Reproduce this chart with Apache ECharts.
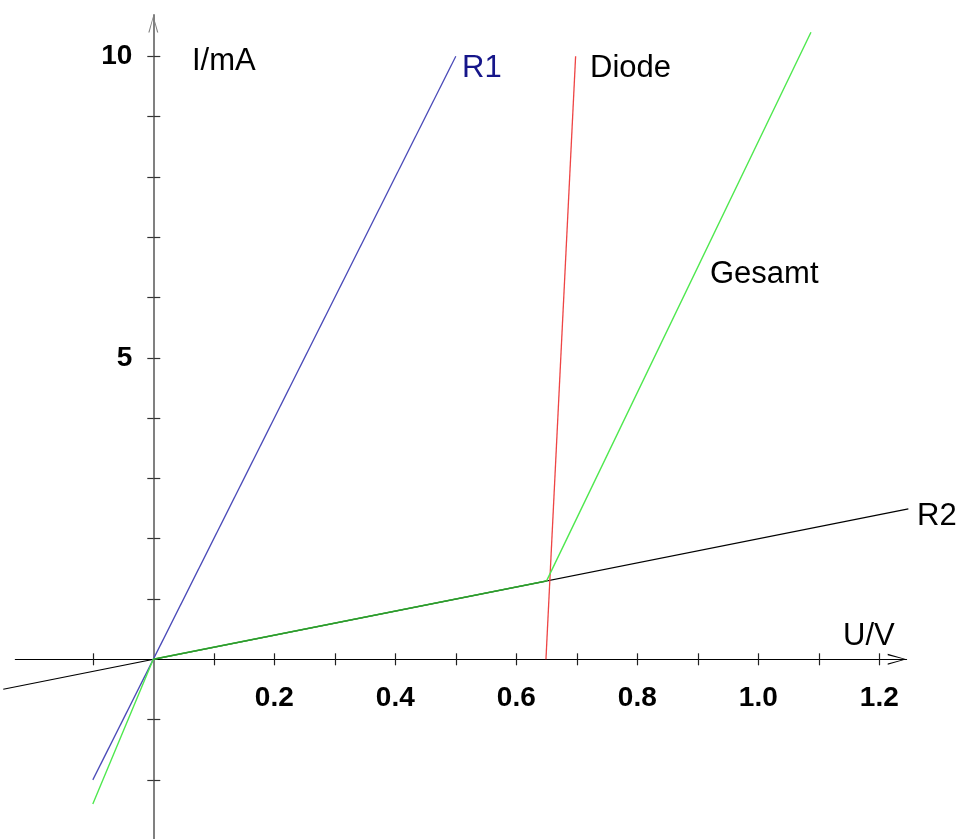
<!DOCTYPE html>
<html><head><meta charset="utf-8">
<script src="https://cdn.jsdelivr.net/npm/echarts@6/dist/echarts.min.js"></script>
<style>html,body{margin:0;padding:0;background:#fff}#c{width:977px;height:839px}</style>
</head><body><div id="c"></div>
<script>
// Data (U in V, I in mA)
const r1U = [-0.1, 0.5];
const r1I = [-2, 10];
const diodeU = [0.649, 0.698];
const diodeI = [0, 10];
const r2U = [-0.248, 1.248];
const r2I = [-0.496, 2.496];
const gesamtU = [-0.1, 0, 0.65, 1.087];
const gesamtI = [-2.4, 0, 1.3, 10.4];
// Axis ticks and labels
const xTickValues = [-0.1, 0.1, 0.2, 0.3, 0.4, 0.5, 0.6, 0.7, 0.8, 0.9, 1.0, 1.1, 1.2];
const xLabelValues = [0.2, 0.4, 0.6, 0.8, 1.0, 1.2];
const yTickValues = [-2, -1, 1, 2, 3, 4, 5, 6, 7, 8, 9, 10];
const yLabelValues = [5, 10];
const xTitle = 'U/V';
const yTitle = 'I/mA';
const seriesNames = ['R1', 'Diode', 'R2', 'Gesamt'];

const pairs = (u, i) => u.map((v, k) => [v, i[k]]);
const FONT = 'Liberation Sans, Arial, sans-serif';
const ARROW = 'path://M5,0L10,17L8.8,17L5,2.2L1.2,17L0,17Z';

// layout (pixels)
const X_MIN = -0.228, X_MAX = 1.245, Y_MIN = -2.98, Y_MAX = 10.685;
const PX_PER_V = 605;
const G_LEFT = 15.36, G_WIDTH = 891.2, G_TOP = 15, ORIGIN_X = 153.3, ORIGIN_Y = 659.3;
// wide grid (same scale) so the R2 line can extend past the axis ends
const W_MIN = -0.26, W_MAX = 1.26;

const chart = echarts.init(document.getElementById('c'), null, {renderer: 'canvas'});
const baseLine = {type: 'line', showSymbol: false, symbol: 'none', clip: false, animation: false, silent: true, xAxisIndex: 0, yAxisIndex: 0};
const hiddenAxis = {type: 'value', min: 0, max: 1, show: false};
const labelStyle = {fontFamily: FONT, fontWeight: 'bold', fontSize: 28, color: '#000'};

chart.setOption({
  backgroundColor: '#fff',
  animation: false,
  grid: [
    {left: G_LEFT, width: G_WIDTH, top: G_TOP, bottom: 0, outerBoundsMode: 'none', containLabel: false},
    {left: G_LEFT, width: G_WIDTH, top: G_TOP, height: ORIGIN_Y - G_TOP, outerBoundsMode: 'none', containLabel: false},
    {left: ORIGIN_X, width: 100, top: G_TOP, bottom: 0, outerBoundsMode: 'none', containLabel: false},
    {left: ORIGIN_X + W_MIN * PX_PER_V, width: (W_MAX - W_MIN) * PX_PER_V, top: G_TOP, bottom: 0, outerBoundsMode: 'none', containLabel: false}
  ],
  xAxis: [
    {type: 'value', gridIndex: 0, min: X_MIN, max: X_MAX, position: 'bottom',
     axisLine: {onZero: true, lineStyle: {color: '#000', width: 1.2}, symbol: ['none', ARROW], symbolSize: [11, 19], symbolOffset: [0, -9.5]},
     axisTick: {show: true, inside: false, length: 6, customValues: xTickValues, lineStyle: {color: '#222', width: 1.2}},
     axisLabel: {show: false}, splitLine: {show: false}},
    {type: 'value', gridIndex: 0, min: X_MIN, max: X_MAX, position: 'top',
     axisLine: {show: false, onZero: true},
     axisTick: {show: true, inside: false, length: 6, customValues: xTickValues, lineStyle: {color: '#222', width: 1.2}},
     axisLabel: {show: false}, splitLine: {show: false}},
    {type: 'value', gridIndex: 1, min: X_MIN, max: X_MAX, position: 'bottom',
     axisLine: {show: false, onZero: false}, axisTick: {show: false}, splitLine: {show: false},
     axisLabel: Object.assign({show: true, customValues: xLabelValues, formatter: v => v.toFixed(1), margin: 39, verticalAlign: 'middle'}, labelStyle)},
    Object.assign({gridIndex: 2}, hiddenAxis),
    {type: 'value', gridIndex: 3, min: W_MIN, max: W_MAX, show: false}
  ],
  yAxis: [
    {type: 'value', gridIndex: 0, min: Y_MIN, max: Y_MAX, position: 'left',
     axisLine: {onZero: true, lineStyle: {color: '#808080', width: 2}, symbol: ['none', ARROW], symbolSize: [10, 18], symbolOffset: [0, -9]},
     axisTick: {show: true, inside: false, length: 6, customValues: yTickValues, lineStyle: {color: '#333', width: 1.2}},
     axisLabel: {show: false}, splitLine: {show: false}},
    {type: 'value', gridIndex: 0, min: Y_MIN, max: Y_MAX, position: 'right',
     axisLine: {show: false, onZero: true},
     axisTick: {show: true, inside: false, length: 7, customValues: yTickValues, lineStyle: {color: '#333', width: 1.2}},
     axisLabel: {show: false}, splitLine: {show: false}},
    Object.assign({gridIndex: 1}, hiddenAxis),
    {type: 'value', gridIndex: 2, min: Y_MIN, max: Y_MAX, position: 'left',
     axisLine: {show: false, onZero: false}, axisTick: {show: false}, splitLine: {show: false},
     axisLabel: Object.assign({show: true, customValues: yLabelValues, margin: 21}, labelStyle)},
    {type: 'value', gridIndex: 3, min: Y_MIN, max: Y_MAX, show: false}
  ],
  series: [
    Object.assign({}, baseLine, {name: seriesNames[2], xAxisIndex: 4, yAxisIndex: 4, data: pairs(r2U, r2I), lineStyle: {color: '#000', width: 1.2}, z: 3}),
    Object.assign({}, baseLine, {name: seriesNames[0], data: pairs(r1U, r1I), lineStyle: {color: '#4a4ab8', width: 1.3}, z: 4}),
    Object.assign({}, baseLine, {name: seriesNames[1], data: pairs(diodeU, diodeI), lineStyle: {color: '#ee4444', width: 1.3}, z: 4}),
    Object.assign({}, baseLine, {name: seriesNames[3], data: pairs(gesamtU, gesamtI), lineStyle: {color: '#4fe84f', width: 1.4}, z: 5}),
    Object.assign({}, baseLine, {name: seriesNames[3] + ' (R2)', data: pairs(gesamtU.slice(1, 3), gesamtI.slice(1, 3)), lineStyle: {color: '#2e9a2e', width: 1.5}, z: 6})
  ],
  graphic: [
    {type: 'text', left: 192, top: 46, style: {text: yTitle, font: '31px ' + FONT, fill: '#000'}},
    {type: 'text', left: 843, top: 621, style: {text: xTitle, font: '31px ' + FONT, fill: '#000'}},
    {type: 'text', left: 462, top: 53, style: {text: seriesNames[0], font: '31px ' + FONT, fill: '#16168a'}},
    {type: 'text', left: 590, top: 53, style: {text: seriesNames[1], font: '31px ' + FONT, fill: '#000'}},
    {type: 'text', left: 710, top: 259, style: {text: seriesNames[3], font: '31px ' + FONT, fill: '#000'}},
    {type: 'text', left: 917, top: 501, style: {text: seriesNames[2], font: '31px ' + FONT, fill: '#000'}}
  ]
});
</script></body></html>
